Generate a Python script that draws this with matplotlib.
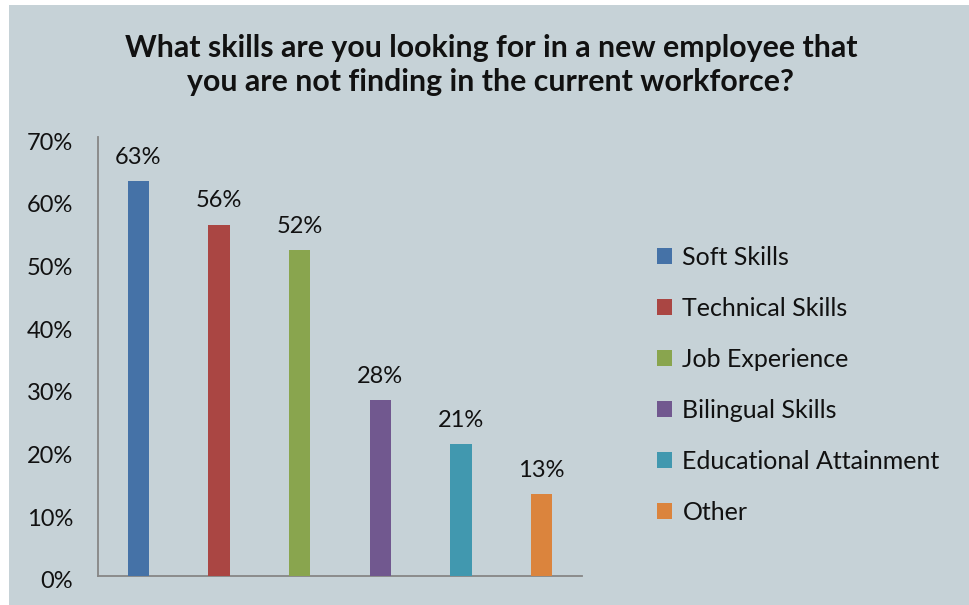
import matplotlib
matplotlib.use("Agg")
import matplotlib.pyplot as plt
from matplotlib.patches import Rectangle, Patch
from matplotlib.ticker import FuncFormatter
from matplotlib.transforms import ScaledTranslation

categories = ["Soft Skills", "Technical Skills", "Job Experience",
              "Bilingual Skills", "Educational Attainment", "Other"]
values = [63, 56, 52, 28, 21, 13]
colors = ["#4572A7", "#AA4643", "#89A54E", "#71588F", "#4198AF", "#DB843D"]
yticks = [0, 10, 20, 30, 40, 50, 60, 70]
title = ("What skills are you looking for in a new employee that\n"
         "you are not finding in the current workforce?")

BG = "#C6D2D7"
FONT = ["Lato", "DejaVu Sans"]
plt.rcParams["font.family"] = FONT

W, H = 970, 605
fig = plt.figure(figsize=(W / 100, H / 100), dpi=100, facecolor="white")
# chart area background (thin white margin at left and top)
fig.patches.append(Rectangle((9 / W, 0), 1 - 9 / W, 1 - 5 / H,
                             transform=fig.transFigure, facecolor=BG,
                             edgecolor="none", zorder=-10))

ax = fig.add_axes([98 / W, (H - 576) / H, (582 - 98) / W, (576 - 137) / H])
ax.set_facecolor("none")

x = list(range(len(categories)))
bars = ax.bar(x, values, width=0.265, color=colors, zorder=3)
for xi, v in zip(x, values):
    ax.annotate(f"{v}%", xy=(xi, v), xytext=(0, 12.5), textcoords="offset points",
                ha="center", va="baseline", fontsize=17, color="#111111")

ax.set_xlim(-0.5, len(categories) - 0.5)
ax.set_ylim(0, 70)
ax.set_yticks(yticks)
ax.yaxis.set_major_formatter(FuncFormatter(lambda v, p: f"{v:.0f}%"))
ax.set_xticks([])
ax.tick_params(axis="y", length=0, pad=18, labelsize=17, labelcolor="#111111")
# y labels sit slightly below their gridline level
shift = ScaledTranslation(0, -4 / 100, fig.dpi_scale_trans)
for lbl in ax.get_yticklabels():
    lbl.set_transform(lbl.get_transform() + shift)

for side in ["top", "right"]:
    ax.spines[side].set_visible(False)
for side in ["left", "bottom"]:
    ax.spines[side].set_color("#868686")
    ax.spines[side].set_linewidth(1.3)

fig.text(0.506, 1 - 65 / H, title, ha="center", va="center", fontsize=21.8,
         fontweight="bold", color="#111111", linespacing=1.3)

handles = [Patch(facecolor=c, edgecolor="none") for c in colors]
fig.legend(handles, categories, loc="center left",
           bbox_to_anchor=(635 / W, 1 - 385 / H), frameon=False,
           fontsize=18, handlelength=0.6, handleheight=0.6,
           handletextpad=0.4, labelspacing=1.12, labelcolor="#111111")

fig.savefig("out.png", dpi=100, facecolor="white")
